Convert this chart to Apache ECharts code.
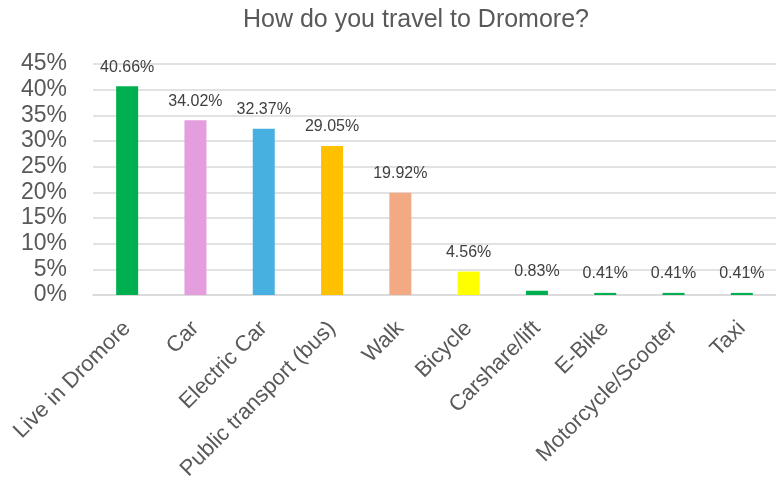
<!DOCTYPE html>
<html><head><meta charset="utf-8">
<script src="https://cdn.jsdelivr.net/npm/echarts@6/dist/echarts.min.js"></script>
<style>html,body{margin:0;padding:0;background:#fff}#c{width:776px;height:489px}</style>
</head><body><div id="c"></div>
<script>
const categories = ['Live in Dromore','Car','Electric Car','Public transport (bus)','Walk','Bicycle','Carshare/lift','E-Bike','Motorcycle/Scooter','Taxi'];
const values = [40.66, 34.02, 32.37, 29.05, 19.92, 4.56, 0.83, 0.41, 0.41, 0.41];
const colors = ['#00B050','#E49EDD','#47B0E0','#FFC000','#F2AA84','#FFFF00','#00B050','#00B050','#00B050','#00B050'];
const yTicks = {min: 0, max: 45, interval: 5};
const titleText = 'How do you travel to Dromore?';

const chart = echarts.init(document.getElementById('c'));
chart.setOption({
  animation: false,
  textStyle: {fontFamily: 'Liberation Sans, Arial, sans-serif'},
  title: {text: titleText, left: 238, top: 3,
    textStyle: {fontSize: 25, fontWeight: 'normal', color: '#595959'}},
  grid: {left: 93, right: -6, top: 64, bottom: 194, containLabel: false},
  xAxis: {type: 'category', data: categories,
    axisLine: {lineStyle: {color: '#D9D9D9', width: 1.5}},
    axisTick: {show: false},
    axisLabel: {rotate: 45, interval: 0, fontSize: 22, color: '#595959', margin: 30}},
  yAxis: {type: 'value', min: yTicks.min, max: yTicks.max, interval: yTicks.interval,
    axisLine: {show: false}, axisTick: {show: false},
    splitLine: {lineStyle: {color: '#D9D9D9', width: 1.5}},
    axisLabel: {formatter: '{value}%', fontSize: 23, color: '#595959', margin: 26}},
  series: [{type: 'bar', barWidth: 22,
    data: values.map((v, i) => ({value: v, itemStyle: {color: colors[i]}})),
    label: {show: true, position: 'top', distance: 11, fontSize: 16, color: '#404040',
      formatter: p => p.value.toFixed(2) + '%'}}]
});
</script></body></html>
